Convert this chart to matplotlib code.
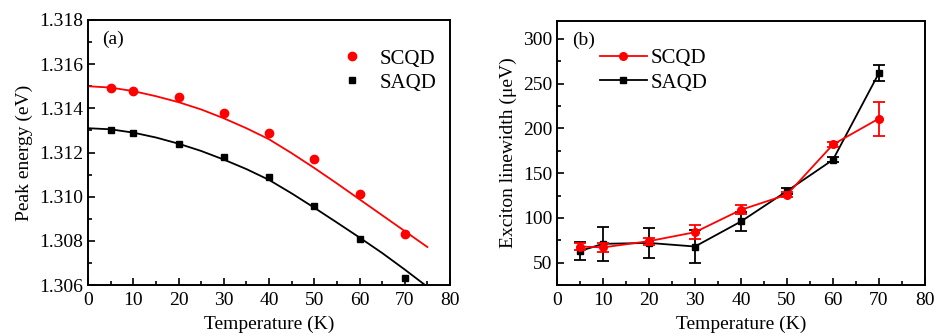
import numpy as np
import matplotlib
matplotlib.use('Agg')
import matplotlib.pyplot as plt
from matplotlib.ticker import MultipleLocator, FormatStrFormatter
from matplotlib.lines import Line2D

plt.rcParams['font.family'] = ['Liberation Serif', 'DejaVu Serif']

# panel (a): peak energy
T = [5, 10, 20, 30, 40, 50, 60, 70]
E_scqd = [1.3149, 1.3148, 1.3145, 1.3138, 1.3129, 1.3117, 1.3101, 1.3083]
E_saqd = [1.3130, 1.3129, 1.3124, 1.3118, 1.3109, 1.3096, 1.3081, 1.3063]

# fitted curves
T_fit = [0, 5, 10, 15, 20, 25, 30, 35, 40, 45, 50, 55, 60, 65, 70, 75]
fit_scqd = [1.31500, 1.31494, 1.31478, 1.31455, 1.31428, 1.31395, 1.31355, 1.31310,
            1.31260, 1.31197, 1.31130, 1.31060, 1.30988, 1.30916, 1.30844, 1.30772]
fit_saqd = [1.31310, 1.31305, 1.31290, 1.31268, 1.31240, 1.31207, 1.31168, 1.31125,
            1.31076, 1.31015, 1.30950, 1.30883, 1.30815, 1.30745, 1.30670, 1.30592]

# panel (b): exciton linewidth
W_scqd = [68, 67, 74, 84, 109, 126, 182, 211]
W_scqd_err = [4, 5, 4, 8, 5, 3, 3, 19]
W_saqd = [63, 71, 72, 68, 96, 130, 165, 262]
W_saqd_err = [10, 19, 17, 18, 11, 3, 3, 9]

fig = plt.figure(figsize=(9.34, 3.36), dpi=100)
ax1 = fig.add_axes([88/934, 1-285/336, 362/934, 265/336])
ax2 = fig.add_axes([557/934, 1-285/336, 368/934, 264/336])

ax1.plot(T_fit, fit_scqd, color='red', lw=1.3)
ax1.plot(T_fit, fit_saqd, color='black', lw=1.3)
ax1.plot(T, E_scqd, 'o', color='red', ms=6, label='SCQD', clip_on=False, zorder=3)
ax1.plot(T, E_saqd, 's', color='black', ms=5, label='SAQD', clip_on=False, zorder=3)
ax1.set_xlim(0, 80)
ax1.set_ylim(1.306, 1.318)
ax1.yaxis.set_major_locator(MultipleLocator(0.002))
ax1.yaxis.set_minor_locator(MultipleLocator(0.001))
ax1.yaxis.set_major_formatter(FormatStrFormatter('%.3f'))
ax1.set_ylabel('Peak energy (eV)', fontsize=14, labelpad=4)
ax1.text(0.04, 0.91, '(a)', transform=ax1.transAxes, fontsize=14)
ax1.legend(loc='center left', bbox_to_anchor=(0.686, 0.808), frameon=False, fontsize=15,
           handletextpad=0.6, labelspacing=0.22, handlelength=1.5,
           borderpad=0, borderaxespad=0)

ax2.errorbar(T, W_scqd, yerr=W_scqd_err, color='red', marker='o', ms=5.5, lw=1.3,
             capsize=4, elinewidth=1.3, capthick=1.3, zorder=3)
ax2.errorbar(T, W_saqd, yerr=W_saqd_err, color='black', marker='s', ms=5, lw=1.3,
             capsize=4, elinewidth=1.3, capthick=1.3, zorder=2)
ax2.set_xlim(0, 80)
ax2.set_ylim(25, 320)
ax2.yaxis.set_major_locator(MultipleLocator(50))
ax2.yaxis.set_minor_locator(MultipleLocator(25))
ax2.set_ylabel('Exciton linewidth (\u03bceV)', fontsize=14, labelpad=4)
ax2.text(0.04, 0.91, '(b)', transform=ax2.transAxes, fontsize=14)
h = [Line2D([], [], color='red', marker='o', ms=5.5, lw=1.3),
     Line2D([], [], color='black', marker='s', ms=5, lw=1.3)]
ax2.legend(h, ['SCQD', 'SAQD'], loc='center left', bbox_to_anchor=(0.117, 0.8125),
           frameon=False, fontsize=15, handletextpad=0.2, labelspacing=0.25,
           handlelength=2.25, borderpad=0, borderaxespad=0)

for ax in (ax1, ax2):
    ax.xaxis.set_major_locator(MultipleLocator(10))
    ax.xaxis.set_minor_locator(MultipleLocator(5))
    ax.set_xlabel('Temperature (K)', fontsize=14, labelpad=5)
    ax.tick_params(which='both', direction='in', top=False, right=False, labelsize=14)
    ax.tick_params(axis='x', pad=5)
    ax.tick_params(which='major', length=5, width=1.2)
    ax.tick_params(which='minor', length=3, width=1.2)
    for s in ax.spines.values():
        s.set_linewidth(1.4)

fig.savefig('out.png', dpi=100)
